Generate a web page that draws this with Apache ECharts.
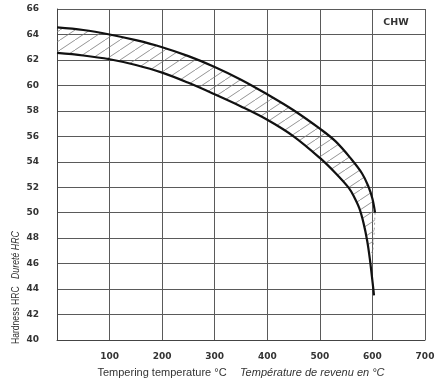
<!DOCTYPE html>
<html>
<head>
<meta charset="utf-8">
<script src="https://cdn.jsdelivr.net/npm/echarts@6/dist/echarts.min.js"></script>
<style>html,body{margin:0;padding:0;background:#fff}#c{width:440px;height:385px}</style>
</head>
<body>
<div id="c"></div>
<script>
// Tempering temperature (°C) and hardness (HRC) - upper boundary
var upperT = [0, 50, 100, 150, 200, 250, 300, 350, 400, 450, 500, 530, 560, 580, 592, 600, 605];
var upperH = [64.55, 64.35, 64.0, 63.55, 63.0, 62.3, 61.45, 60.45, 59.3, 58.05, 56.6, 55.6, 54.2, 53.1, 52.1, 51.1, 50.0];
// lower boundary
var lowerT = [0, 50, 100, 150, 200, 250, 300, 350, 400, 450, 500, 530, 555, 565, 575, 583, 590, 595, 599, 602, 603];
var lowerH = [62.55, 62.35, 62.05, 61.6, 61.0, 60.2, 59.3, 58.35, 57.3, 56.0, 54.3, 53.1, 51.95, 51.25, 50.35, 49.2, 47.8, 46.4, 45.0, 43.9, 43.5];
// faint right edge of hatched band below the upper end
var edgeT = [605, 603, 600];
var edgeH = [50.0, 48.2, 46.6];
// axis ticks
var xTicks = [0, 100, 200, 300, 400, 500, 600, 700];
var yTicks = [40, 42, 44, 46, 48, 50, 52, 54, 56, 58, 60, 62, 64, 66];

function pairs(t, h) { return t.map(function (v, i) { return [v, h[i]]; }); }

// hatch pattern
var pc = document.createElement('canvas');
var pw = 15, ph = 10;
pc.width = pw; pc.height = ph;
var g = pc.getContext('2d');
g.strokeStyle = '#7a7a7a';
g.lineWidth = 0.8;
[-pw, 0, pw].forEach(function (dx) {
  g.beginPath();
  g.moveTo(dx, ph);
  g.lineTo(dx + pw, 0);
  g.stroke();
});

var chart = echarts.init(document.getElementById('c'), null, { renderer: 'canvas' });
var font = 'DejaVu Sans';
chart.setOption({
  backgroundColor: '#fff',
  animation: false,
  grid: { left: 57, right: 15, top: 9, bottom: 45, containLabel: false },
  xAxis: {
    type: 'value', min: xTicks[0], max: xTicks[xTicks.length - 1], interval: 100,
    axisLine: { show: true, lineStyle: { color: '#444', width: 1 } },
    axisTick: { show: false },
    splitLine: { show: true, lineStyle: { color: '#5a5a5a', width: 1 } },
    axisLabel: {
      margin: 12, color: '#333', fontWeight: 'bold', fontSize: 9, fontFamily: font,
      formatter: function (v) { return v === 0 ? '' : String(v); }
    },
    name: '{a|Tempering temperature °C}    {b|Température de revenu en °C}',
    nameLocation: 'middle', nameGap: 27,
    nameTextStyle: {
      rich: {
        a: { fontFamily: 'Liberation Sans', fontSize: 11, color: '#333' },
        b: { fontFamily: 'Liberation Sans', fontStyle: 'italic', fontSize: 11, color: '#333' }
      }
    }
  },
  yAxis: {
    type: 'value', min: yTicks[0], max: yTicks[yTicks.length - 1], interval: 2,
    axisLine: { show: true, lineStyle: { color: '#444', width: 1 } },
    axisTick: { show: false },
    splitLine: { show: true, lineStyle: { color: '#5a5a5a', width: 1 } },
    axisLabel: { margin: 18, color: '#333', fontWeight: 'bold', fontSize: 9, fontFamily: font }
  },
  graphic: [
    { type: 'text', x: 16, y: 344, rotation: Math.PI / 2, scaleX: 0.78,
      style: { text: 'Hardness HRC', fill: '#333', font: '11px "Liberation Sans", sans-serif', align: 'left', verticalAlign: 'middle' } },
    { type: 'text', x: 16, y: 279, rotation: Math.PI / 2, scaleX: 0.8,
      style: { text: 'Dureté HRC', fill: '#333', font: 'italic 11px "Liberation Sans", sans-serif', align: 'left', verticalAlign: 'middle' } },
    { type: 'text', x: 396, y: 23,
      style: { text: 'CHW', fill: '#333', font: 'bold 9.5px "DejaVu Sans", sans-serif', align: 'center', verticalAlign: 'middle' } }
  ],
  series: [
    {
      type: 'custom', z: 1,
      data: [[0, 60]],
      renderItem: function (params, api) {
        var pts = [];
        upperT.forEach(function (t, i) { pts.push(api.coord([t, upperH[i]])); });
        edgeT.forEach(function (t, i) { pts.push(api.coord([t, edgeH[i]])); });
        for (var i = lowerT.length - 1; i >= 0; i--) {
          if (lowerH[i] >= edgeH[edgeH.length - 1]) pts.push(api.coord([lowerT[i], lowerH[i]]));
        }
        return { type: 'polygon', shape: { points: pts }, style: { fill: { image: pc, repeat: 'repeat' }, stroke: null } };
      }
    },
    {
      type: 'line', z: 2, data: pairs(edgeT, edgeH), symbol: 'none',
      lineStyle: { color: '#888', width: 0.8, type: [2, 3] }
    },
    {
      type: 'line', z: 3, data: pairs(upperT, upperH), symbol: 'none', smooth: 0.35,
      lineStyle: { color: '#111', width: 2.2 }
    },
    {
      type: 'line', z: 3, data: pairs(lowerT, lowerH), symbol: 'none', smooth: 0.35,
      lineStyle: { color: '#111', width: 2.2 }
    }
  ]
});
</script>
</body>
</html>
